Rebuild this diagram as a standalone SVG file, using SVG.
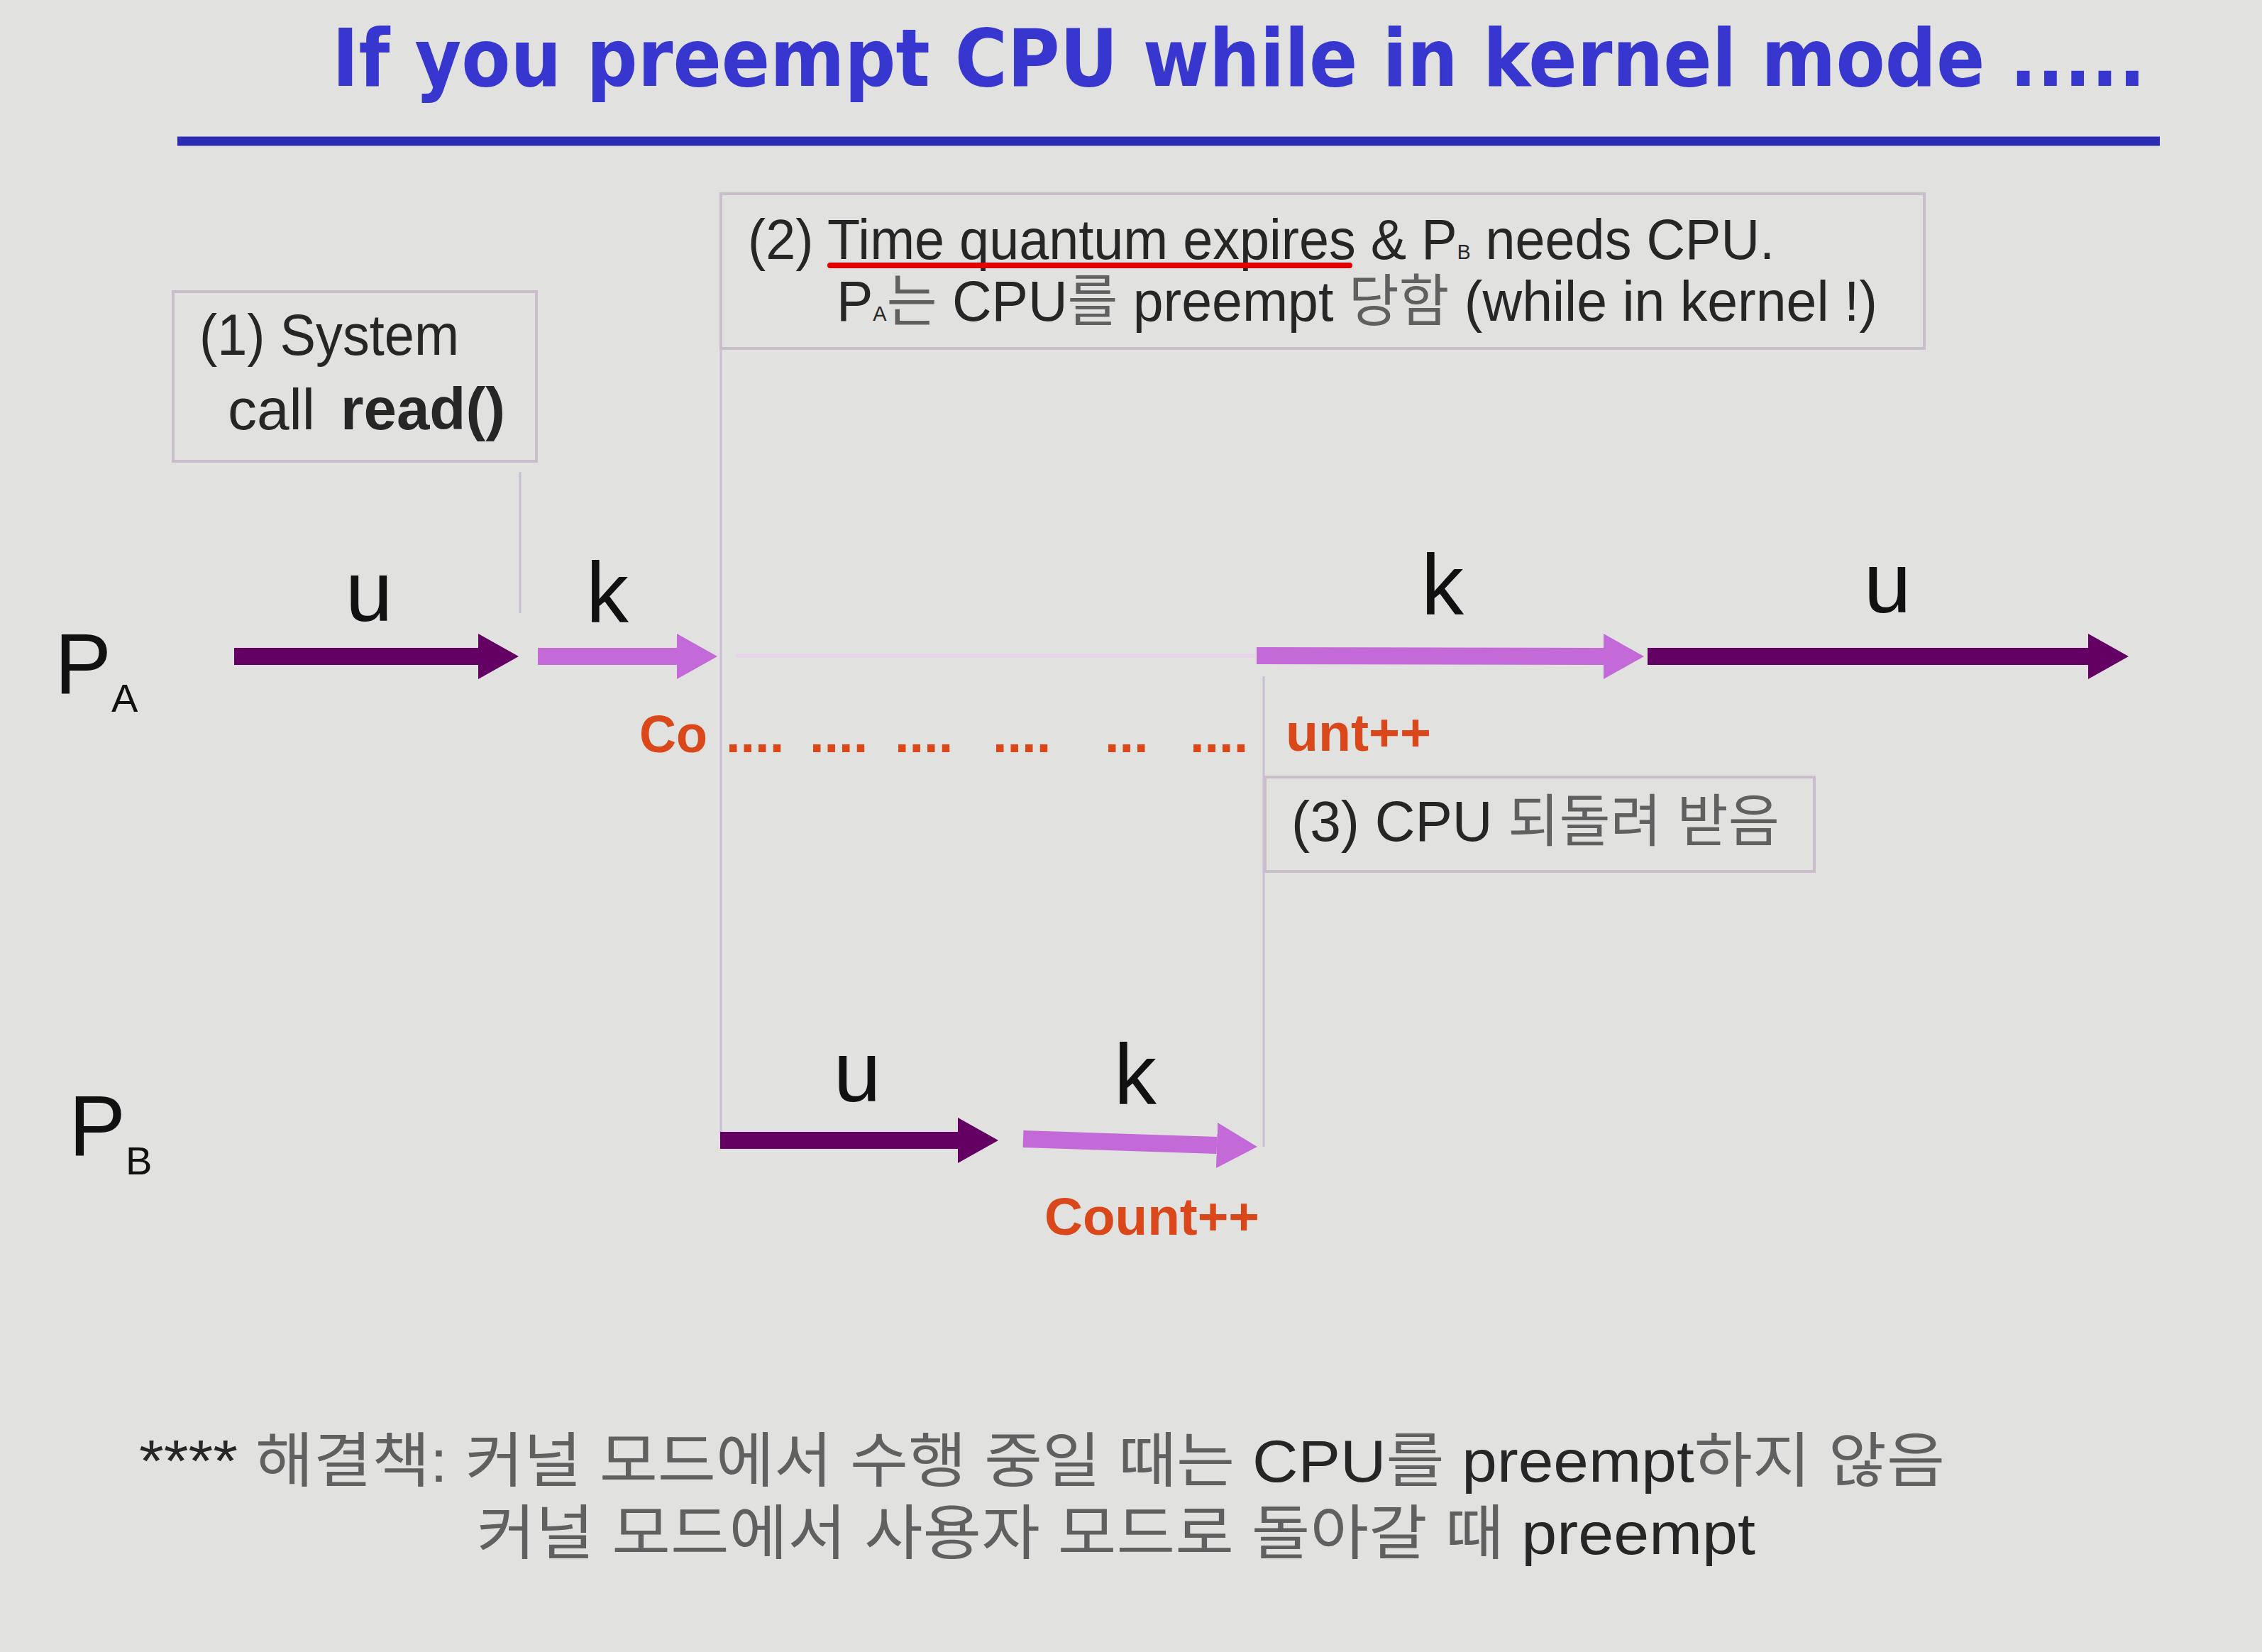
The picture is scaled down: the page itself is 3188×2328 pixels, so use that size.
<svg xmlns="http://www.w3.org/2000/svg" width="3188" height="2328" viewBox="0 0 3188 2328">
  <style>
    .bg { fill: #e1e1df; }
    .title { font-family: "DejaVu Sans", Verdana, sans-serif; font-weight: bold; font-size: 112px; fill: #3737cf; }
    .box { fill: none; stroke: #c9bccb; stroke-width: 4; }
    .vl { stroke: #cbbdd3; stroke-width: 3; fill: none; }
    .tx { font-family: "Liberation Sans", "Noto Sans CJK KR", Arial, sans-serif; fill: #262626; }
    .kr { fill: #606060; }
    .big { font-family: "Liberation Sans", Arial, sans-serif; font-size: 120px; fill: #111; }
    .or { font-family: "Liberation Sans", Arial, sans-serif; font-weight: bold; font-size: 74px; fill: #d9471a; }
    .dk { stroke: #640064; stroke-width: 24; fill: none; }
    .lt { stroke: #c46ad8; stroke-width: 24; fill: none; }
  </style>
  <defs>
    <marker id="hdDk" markerUnits="userSpaceOnUse" markerWidth="58" markerHeight="66" viewBox="0 0 58 66" refX="0" refY="33" orient="auto">
      <path d="M0,1 L57,33 L0,65 Z" fill="#640064"/>
    </marker>
    <marker id="hdLt" markerUnits="userSpaceOnUse" markerWidth="58" markerHeight="66" viewBox="0 0 58 66" refX="0" refY="33" orient="auto">
      <path d="M0,1 L57,33 L0,65 Z" fill="#c46ad8"/>
    </marker>
  </defs>

  <rect class="bg" x="0" y="0" width="3188" height="2328"/>

  <g id="title">
    <text class="title" x="3024" y="121" text-anchor="end" textLength="2556" lengthAdjust="spacingAndGlyphs">If you preempt CPU while in kernel mode .....</text>
    <line x1="250" y1="199" x2="3044" y2="199" stroke="#2d2db4" stroke-width="13"/>
  </g>

  <g id="guides">
    <line class="vl" x1="733" y1="665" x2="733" y2="864"/>
    <line class="vl" x1="1016" y1="491" x2="1016" y2="1606"/>
    <line class="vl" x1="1781" y1="953" x2="1781" y2="1616"/>
  </g>

  <g id="box1">
    <rect class="box" x="244" y="411" width="512" height="239"/>
    <text class="tx" x="281" y="500" font-size="82" textLength="366" lengthAdjust="spacingAndGlyphs">(1) System</text>
    <text class="tx" x="321" y="605" font-size="82">call</text>
    <text class="tx" x="480" y="605" font-size="84" font-weight="bold" fill="#111" textLength="232" lengthAdjust="spacingAndGlyphs">read()</text>
  </g>

  <g id="box2">
    <rect class="box" x="1016" y="273" width="1696" height="218"/>
    <text class="tx" x="1054" y="365" font-size="80" textLength="1447" lengthAdjust="spacingAndGlyphs">(2) Time quantum expires &amp; P<tspan font-size="30">B</tspan> needs CPU.</text>
    <line x1="1170" y1="374" x2="1902" y2="374" stroke="#e00000" stroke-width="8" stroke-linecap="round"/>
    <text class="tx" x="1179" y="452" font-size="80" textLength="1467" lengthAdjust="spacingAndGlyphs">P<tspan font-size="30">A</tspan><tspan class="kr">는</tspan> CPU<tspan class="kr">를</tspan> preempt <tspan class="kr">당함</tspan> (while in kernel !)</text>
  </g>

  <g id="box3">
    <rect class="box" x="1783" y="1095" width="774" height="133"/>
    <text class="tx" x="1820" y="1185" font-size="80" textLength="688" lengthAdjust="spacingAndGlyphs">(3) CPU <tspan class="kr">되돌려 받음</tspan></text>
  </g>

  <g id="PA">
    <text class="big" x="77" y="977">P<tspan font-size="56" dy="26">A</tspan></text>
  </g>
  <g id="PB">
    <text class="big" x="97" y="1628">P<tspan font-size="56" dy="27">B</tspan></text>
  </g>

  <g id="connectors">
    <line x1="1037" y1="924" x2="1769" y2="924" stroke="#e8d3ea" stroke-width="5"/>
    <line class="dk" x1="330" y1="925" x2="674" y2="925" marker-end="url(#hdDk)"/>
    <line class="lt" x1="758" y1="925" x2="954" y2="925" marker-end="url(#hdLt)"/>
    <line class="lt" x1="1771" y1="924" x2="2260" y2="925" marker-end="url(#hdLt)"/>
    <line class="dk" x1="2322" y1="925" x2="2943" y2="925" marker-end="url(#hdDk)"/>
    <line class="dk" x1="1015" y1="1607" x2="1350" y2="1607" marker-end="url(#hdDk)"/>
    <line class="lt" x1="1442" y1="1605" x2="1715" y2="1614" marker-end="url(#hdLt)"/>
  </g>

  <g id="segment-labels">
    <text class="big" x="520" y="875" text-anchor="middle">u</text>
    <text class="big" x="856" y="876" text-anchor="middle">k</text>
    <text class="big" x="2033" y="865" text-anchor="middle">k</text>
    <text class="big" x="2660" y="863" text-anchor="middle">u</text>
    <text class="big" x="1208" y="1552" text-anchor="middle">u</text>
    <text class="big" x="1600" y="1555" text-anchor="middle">k</text>
  </g>

  <g id="count-labels">
    <text class="or" x="901" y="1060" textLength="96" lengthAdjust="spacingAndGlyphs">Co</text>
    <text class="or" x="1023" y="1060">....</text>
    <text class="or" x="1141" y="1060">....</text>
    <text class="or" x="1261" y="1060">....</text>
    <text class="or" x="1399" y="1060">....</text>
    <text class="or" x="1557" y="1060">...</text>
    <text class="or" x="1677" y="1060">....</text>
    <text class="or" x="1812" y="1058" textLength="205" lengthAdjust="spacingAndGlyphs">unt++</text>
    <text class="or" x="1472" y="1740" font-size="78" textLength="303" lengthAdjust="spacingAndGlyphs">Count++</text>
  </g>

  <g id="footnote">
    <text class="tx" x="196" y="2088" font-size="84" textLength="2545" lengthAdjust="spacingAndGlyphs">**** <tspan class="kr">해결책: 커널 모드에서 수행 중일 때는</tspan> CPU<tspan class="kr">를</tspan> preempt<tspan class="kr">하지 않음</tspan></text>
    <text class="tx" x="672" y="2190" font-size="84" textLength="1802" lengthAdjust="spacingAndGlyphs"><tspan class="kr">커널 모드에서 사용자 모드로 돌아갈 때</tspan> preempt</text>
  </g>
</svg>
